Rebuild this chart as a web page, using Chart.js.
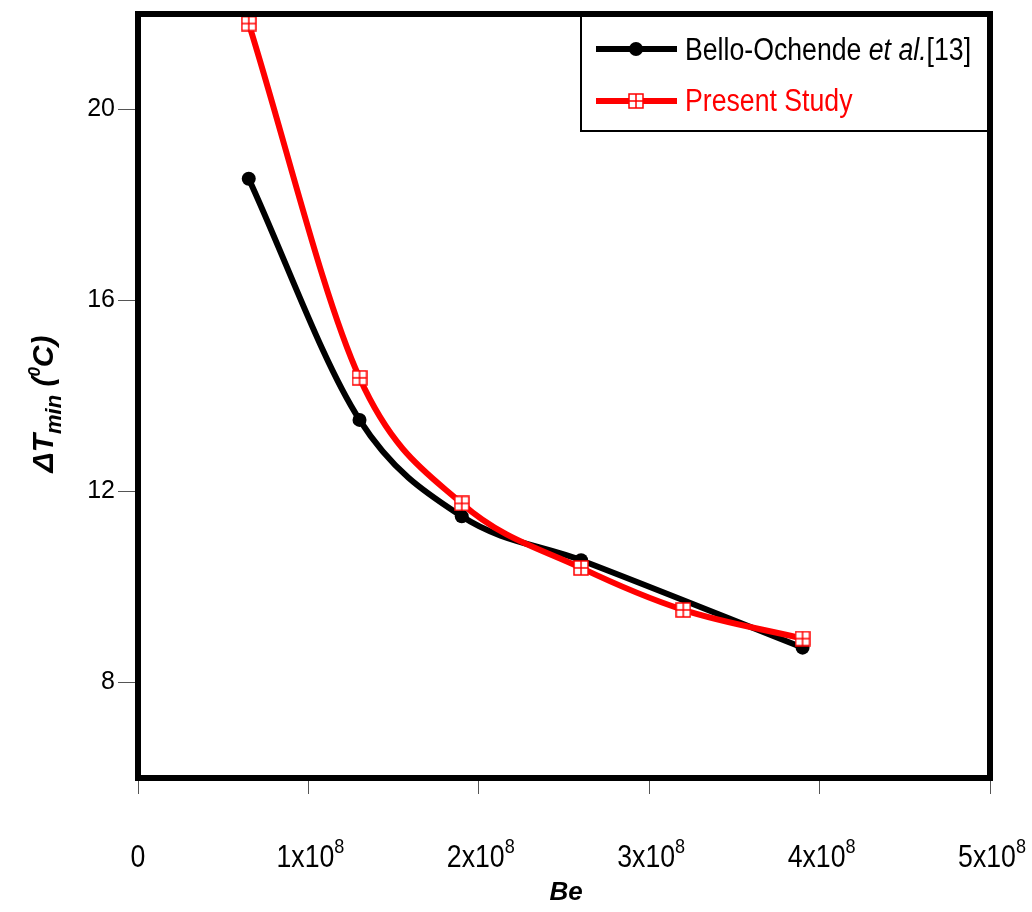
<!DOCTYPE html>
<html>
<head>
<meta charset="utf-8">
<script src="https://cdn.jsdelivr.net/npm/chart.js@4"></script>
<style>
  html, body { margin: 0; padding: 0; background: #fff; }
</style>
</head>
<body>
<canvas id="chart" width="1032" height="912"></canvas>
<script>
// Data
const belloBe = [6.5e7, 1.3e8, 1.9e8, 2.6e8, 3.9e8];
const belloDT = [18.55, 13.5, 11.48, 10.56, 8.73];
const presentBe = [6.5e7, 1.3e8, 1.9e8, 2.6e8, 3.2e8, 3.9e8];
const presentDT = [21.8, 14.38, 11.75, 10.4, 9.52, 8.92];

const yTicks = [8, 12, 16, 20];
const xTicks = [0, 1e8, 2e8, 3e8, 4e8, 5e8];

const SANS = "'Liberation Sans', Arial, sans-serif";
const SQUEEZE = 0.86; // no narrow font installed, so compress horizontally

// square-with-cross marker used by the red series
function crossSquare(size) {
  const c = document.createElement('canvas');
  c.width = size; c.height = size;
  const g = c.getContext('2d');
  g.fillStyle = '#fff';
  g.fillRect(1, 1, size - 2, size - 2);
  g.strokeStyle = '#ff0000';
  g.lineWidth = 1.5;
  g.strokeRect(1, 1, size - 2, size - 2);
  g.beginPath();
  g.moveTo(size / 2, 1); g.lineTo(size / 2, size - 1);
  g.moveTo(1, size / 2); g.lineTo(size - 1, size / 2);
  g.stroke();
  return c;
}
const redMarker = crossSquare(16);

const toPoints = (xs, ys) => xs.map((v, i) => ({ x: v, y: ys[i] }));

// draw text squeezed horizontally, left aligned at x
function narrowText(ctx, txt, x, y, font) {
  ctx.save();
  ctx.font = font;
  ctx.textAlign = 'left';
  ctx.translate(x, y);
  ctx.scale(SQUEEZE, 1);
  ctx.fillText(txt, 0, 0);
  const w = ctx.measureText(txt).width * SQUEEZE;
  ctx.restore();
  return w;
}
function narrowWidth(ctx, txt, font) {
  ctx.save();
  ctx.font = font;
  const w = ctx.measureText(txt).width * SQUEEZE;
  ctx.restore();
  return w;
}

const decor = {
  id: 'decor',
  afterDraw(chart) {
    const { ctx, chartArea: a, scales: { x } } = chart;
    ctx.save();
    ctx.fillStyle = '#000';
    ctx.textBaseline = 'alphabetic';

    // x tick labels with superscript exponent
    const big = '31px ' + SANS, small = '21px ' + SANS;
    xTicks.forEach(v => {
      const px = x.getPixelForValue(v);
      if (v === 0) {
        narrowText(ctx, '0', px - narrowWidth(ctx, '0', big) / 2, 867, big);
        return;
      }
      const main = (v / 1e8) + 'x10';
      const w1 = narrowWidth(ctx, main, big);
      const w2 = narrowWidth(ctx, '8', small);
      const x0 = px - (w1 + w2) / 2 + 2;
      narrowText(ctx, main, x0, 867, big);
      narrowText(ctx, '8', x0 + w1, 853, small);
    });

    // x title
    ctx.font = 'italic bold 26px ' + SANS;
    ctx.textAlign = 'center';
    ctx.fillText('Be', 566, 900);

    // y title, rotated
    ctx.translate(53, 404);
    ctx.rotate(-Math.PI / 2);
    const parts = [
      { t: '\u0394T', f: 'italic bold 30px ' + SANS, dy: 0 },
      { t: 'min', f: 'italic bold 22px ' + SANS, dy: 8 },
      { t: ' (', f: 'italic bold 30px ' + SANS, dy: 0 },
      { t: '0', f: 'italic bold 17px ' + SANS, dy: -13 },
      { t: 'C)', f: 'italic bold 30px ' + SANS, dy: 0 }
    ];
    let total = 0;
    parts.forEach(p => { ctx.font = p.f; p.w = ctx.measureText(p.t).width; total += p.w; });
    let cx = -total / 2;
    ctx.textAlign = 'left';
    parts.forEach(p => { ctx.font = p.f; ctx.fillText(p.t, cx, p.dy); cx += p.w; });
    ctx.setTransform(1, 0, 0, 1, 0, 0);

    // legend box
    ctx.fillStyle = '#fff';
    ctx.fillRect(581, a.top, a.right - 581, 131 - a.top);
    ctx.strokeStyle = '#000';
    ctx.lineWidth = 2;
    ctx.strokeRect(581, a.top, a.right - 581, 131 - a.top);

    ctx.lineWidth = 6;
    ctx.strokeStyle = '#000';
    ctx.beginPath(); ctx.moveTo(596, 49); ctx.lineTo(677, 49); ctx.stroke();
    ctx.fillStyle = '#000';
    ctx.beginPath(); ctx.arc(636, 49, 7, 0, Math.PI * 2); ctx.fill();

    ctx.strokeStyle = '#ff0000';
    ctx.beginPath(); ctx.moveTo(596, 101); ctx.lineTo(677, 101); ctx.stroke();
    ctx.drawImage(redMarker, 636 - 8, 101 - 8);

    let tx = 685;
    ctx.fillStyle = '#000';
    tx += narrowText(ctx, 'Bello-Ochende ', tx, 60, '31px ' + SANS);
    tx += narrowText(ctx, 'et al.', tx, 60, 'italic 31px ' + SANS);
    narrowText(ctx, '[13]', tx, 60, '31px ' + SANS);
    ctx.fillStyle = '#ff0000';
    narrowText(ctx, 'Present Study', 685, 111, '31px ' + SANS);

    // thick plot frame
    ctx.strokeStyle = '#000';
    ctx.lineWidth = 6;
    ctx.strokeRect(a.left, a.top, a.right - a.left, a.bottom - a.top);
    ctx.restore();
  }
};

new Chart(document.getElementById('chart'), {
  type: 'scatter',
  data: {
    datasets: [
      {
        label: 'Bello-Ochende et al.[13]',
        data: toPoints(belloBe, belloDT),
        showLine: true,
        borderColor: '#000',
        backgroundColor: '#000',
        borderWidth: 6,
        pointRadius: 7,
        pointStyle: 'circle',
        pointBorderWidth: 0,
        cubicInterpolationMode: 'monotone',
        clip: false,
        order: 2
      },
      {
        label: 'Present Study',
        data: toPoints(presentBe, presentDT),
        showLine: true,
        borderColor: '#ff0000',
        backgroundColor: '#fff',
        borderWidth: 6,
        pointStyle: redMarker,
        pointRadius: 8,
        cubicInterpolationMode: 'monotone',
        clip: false,
        order: 1
      }
    ]
  },
  options: {
    responsive: false,
    animation: false,
    devicePixelRatio: 1,
    layout: { padding: { top: 10, right: 42, left: 0, bottom: 0 } },
    plugins: { legend: { display: false }, tooltip: { enabled: false } },
    scales: {
      x: {
        type: 'linear',
        min: 0,
        max: 5e8,
        afterBuildTicks: s => { s.ticks = xTicks.map(v => ({ value: v })); },
        afterFit: s => { s.height = 134; s.paddingLeft = 0; s.paddingRight = 0; },
        border: { display: false },
        grid: { drawOnChartArea: false, tickLength: 16, color: '#555', lineWidth: 1 },
        ticks: { display: false }
      },
      y: {
        min: 6,
        max: 22,
        afterBuildTicks: s => { s.ticks = yTicks.map(v => ({ value: v })); },
        afterFit: s => { s.width = 138; s.paddingTop = 0; s.paddingBottom = 0; },
        border: { display: false },
        grid: { drawOnChartArea: false, tickLength: 20, color: '#555', lineWidth: 1 },
        ticks: { color: '#000', padding: 3, font: { family: SANS, size: 25 } }
      }
    }
  },
  plugins: [decor]
});
</script>
</body>
</html>
